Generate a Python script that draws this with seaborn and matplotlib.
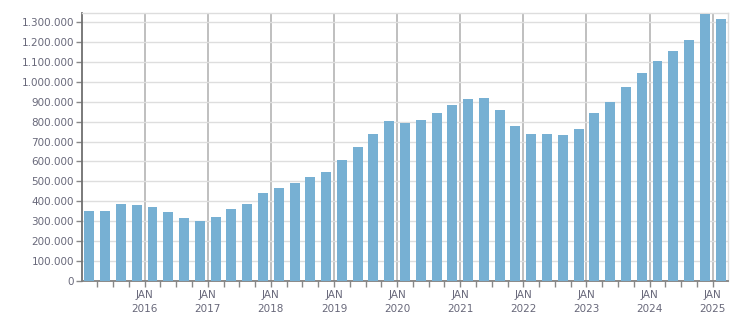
import matplotlib
matplotlib.use("Agg")
import matplotlib.pyplot as plt
from matplotlib.ticker import FuncFormatter, FixedLocator
import seaborn as sns
import pandas as pd

quarters = [f"{y}-Q{q}" for y in range(2015, 2025) for q in (1, 2, 3, 4)] + ["2025-Q1"]
values = [352000, 352000, 385000, 380000, 370000, 345000, 315000, 302000,
          322000, 362000, 388000, 442000, 467000, 492000, 522000, 547000,
          607000, 672000, 737000, 802000, 792000, 807000, 842000, 882000,
          912000, 920000, 857000, 777000, 737000, 737000, 732000, 762000,
          842000, 897000, 972000, 1047000, 1107000, 1157000, 1212000, 1342000,
          1317000]
year_labels = ["JAN\n2016", "JAN\n2017", "JAN\n2018", "JAN\n2019", "JAN\n2020",
               "JAN\n2021", "JAN\n2022", "JAN\n2023", "JAN\n2024", "JAN\n2025"]
y_ticks = list(range(0, 1300001, 100000))

df = pd.DataFrame({"quarter": quarters, "value": values})

sns.set_style("white")
plt.rcParams['font.family'] = ['DejaVu Sans']

fig = plt.figure(figsize=(7.51, 3.13), dpi=100)
ax = fig.add_axes([81.5 / 751, 1 - 280.7 / 313, (728.5 - 81.5) / 751, (280.7 - 13.3) / 313])

sns.barplot(data=df, x="quarter", y="value", color="#77b0d3", saturation=1,
            width=0.63, ax=ax, zorder=3, linewidth=0, edgecolor="none")

ax.set_xlim(-0.5, len(quarters) - 0.5)
ax.set_ylim(0, 1345000)

text_color = "#68687a"
major_pos = [3.5 + 4 * i for i in range(len(year_labels))]
minor_pos = [i + 0.5 for i in range(-1, len(quarters)) if (i + 0.5) not in major_pos and -0.5 < i + 0.5 < len(quarters) - 0.5]
ax.xaxis.set_major_locator(FixedLocator(major_pos))
ax.set_xticklabels(year_labels, linespacing=1.4)
ax.xaxis.set_minor_locator(FixedLocator(minor_pos))

ax.set_yticks(y_ticks)
ax.yaxis.set_major_formatter(FuncFormatter(lambda v, p: f"{v:,.0f}".replace(",", ".")))

ax.tick_params(axis="x", which="both", length=4, width=1, color="#888888",
               labelsize=7.5, labelcolor=text_color, pad=3, bottom=True, direction="out")
ax.tick_params(axis="y", length=4, width=1, color="#888888",
               labelsize=7.5, labelcolor=text_color, pad=1.5, left=True, direction="out")

ax.grid(False)
ax.yaxis.grid(True, color="#dedede", linewidth=1, zorder=0)
ax.xaxis.grid(True, which="major", color="#b4b4b4", linewidth=1.2, zorder=1)
ax.set_axisbelow(True)

ax.set_xlabel("")
ax.set_ylabel("")

for s in ("top", "right"):
    ax.spines[s].set_visible(True)
    ax.spines[s].set_color("#dddddd")
    ax.spines[s].set_linewidth(1)
ax.spines["left"].set_color("#707070")
ax.spines["left"].set_linewidth(1.3)
ax.spines["bottom"].set_color("#808080")
ax.spines["bottom"].set_linewidth(1.3)

fig.savefig("out.png", dpi=100)
